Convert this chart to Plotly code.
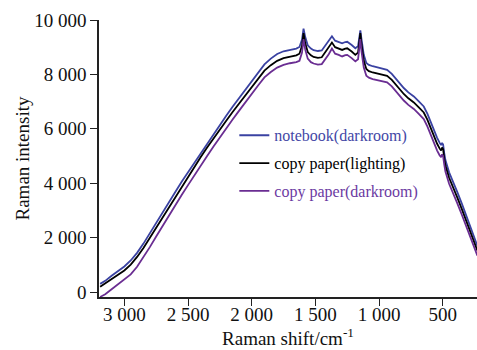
import plotly.graph_objects as go

shift = [3190, 3150, 3100, 3050, 3000, 2950, 2900, 2850, 2800, 2750, 2700, 2650, 2600, 2550, 2500,
         2450, 2400, 2350, 2300, 2250, 2200, 2150, 2100, 2050, 2000, 1950, 1900, 1850, 1800, 1750,
         1700, 1650, 1625, 1605, 1593, 1580, 1560, 1535, 1514, 1480, 1450, 1420, 1395, 1370, 1345,
         1317, 1290, 1265, 1250, 1215, 1186, 1165, 1155, 1147, 1138, 1120, 1100, 1080, 1050, 1020,
         990, 960, 937, 900, 872, 840, 806, 770, 727, 690, 649, 620, 597, 570, 544,
         525, 513, 505, 497, 488, 479, 450, 420, 387, 350, 308, 270, 250, 228]

notebook_dark = [300, 410, 600, 770, 940, 1160, 1440, 1780, 2150, 2540, 2920, 3310, 3680, 4050, 4400,
                 4770, 5120, 5470, 5820, 6160, 6480, 6810, 7130, 7450, 7760, 8070, 8370, 8580, 8750, 8850,
                 8910, 8950, 9010, 9280, 9680, 9380, 9070, 8950, 8890, 8860, 8880, 9070, 9220, 9400, 9240,
                 9200, 9140, 9190, 9200, 9080, 8960, 9040, 9350, 9620, 9300, 8720, 8420, 8350, 8300, 8270,
                 8240, 8200, 8170, 8020, 7860, 7670, 7500, 7340, 7190, 7020, 6820, 6550, 6270, 5970, 5670,
                 5490, 5400, 5480, 5420, 5100, 4850, 4400, 4080, 3690, 3250, 2720, 2200, 1950, 1700]

copy_light = [190, 310, 480, 630, 790, 1010, 1290, 1620, 1990, 2380, 2770, 3150, 3520, 3890, 4250,
              4610, 4960, 5310, 5650, 5990, 6300, 6620, 6930, 7240, 7540, 7850, 8140, 8340, 8500, 8600,
              8660, 8700, 8760, 9050, 9520, 9150, 8820, 8700, 8640, 8610, 8630, 8820, 8980, 9170, 9000,
              8960, 8900, 8950, 8960, 8840, 8720, 8800, 9150, 9520, 9100, 8500, 8200, 8120, 8070, 8040,
              8010, 7970, 7950, 7800, 7640, 7450, 7280, 7120, 6970, 6800, 6600, 6330, 6050, 5750, 5450,
              5280, 5200, 5310, 5250, 4900, 4650, 4200, 3880, 3490, 3050, 2520, 2020, 1780, 1520]

copy_dark = [-180, -80, 100, 280, 440, 650, 930, 1270, 1650, 2040, 2430, 2820, 3200, 3570, 3930,
             4300, 4650, 5000, 5350, 5690, 6010, 6340, 6660, 6980, 7280, 7590, 7890, 8090, 8250, 8350,
             8410, 8450, 8500, 8800, 9300, 8920, 8580, 8450, 8400, 8360, 8380, 8570, 8740, 8950, 8760,
             8720, 8660, 8710, 8720, 8600, 8480, 8560, 8900, 9300, 8850, 8250, 7950, 7880, 7830, 7800,
             7770, 7730, 7710, 7560, 7400, 7210, 7040, 6880, 6730, 6560, 6360, 6080, 5800, 5500, 5200,
             5030, 4960, 5060, 5000, 4680, 4430, 3980, 3660, 3280, 2840, 2320, 1820, 1590, 1340]

x_ticks = [3000, 2500, 2000, 1500, 1000, 500]
x_tick_text = ["3 000", "2 500", "2 000", "1 500", "1 000", "500"]
y_ticks = [0, 2000, 4000, 6000, 8000, 10000]
y_tick_text = ["0", "2 000", "4 000", "6 000", "8 000", "10 000"]

series = [
    ("notebook(darkroom)", notebook_dark, "#3a42a2", "#4347a6"),
    ("copy paper(lighting)", copy_light, "#000000", "#000000"),
    ("copy paper(darkroom)", copy_dark, "#6a2d92", "#6b3aa2"),
]

fig = go.Figure()
for i, (name, vals, col, tcol) in enumerate(series):
    fig.add_trace(go.Scatter(
        x=shift, y=vals, mode="lines",
        name=f"<span style='color:{tcol}'>{name}</span>",
        legendgroup=f"g{i}",
        line=dict(color=col, width=1.8),
    ))

font_family = "Liberation Serif, Times New Roman, serif"
fig.update_layout(
    width=477, height=350,
    margin=dict(l=99, r=0, t=20, b=53),
    paper_bgcolor="white", plot_bgcolor="white",
    font=dict(family=font_family, size=19, color="#111"),
    showlegend=True,
    legend=dict(
        x=0.358, y=0.645, xanchor="left", yanchor="top",
        font=dict(family=font_family, size=16, color="#111"),
        bgcolor="rgba(0,0,0,0)", traceorder="grouped", tracegroupgap=4,
    ),
    xaxis=dict(
        range=[3199, 231], tickvals=x_ticks, ticktext=x_tick_text,
        showgrid=False, zeroline=False, showline=True, linecolor="#222", linewidth=1.5,
        ticks="outside", ticklen=7, tickwidth=1.3, tickcolor="#222",
        ticklabelstandoff=-8,
        title=dict(text="Raman shift/cm<sup>-1</sup>", standoff=2, font=dict(size=19)),
    ),
    yaxis=dict(
        range=[-183, 10000], tickvals=y_ticks, ticktext=y_tick_text,
        showgrid=False, zeroline=False, showline=True, linecolor="#222", linewidth=1.5,
        ticks="outside", ticklen=7, tickwidth=1.3, tickcolor="#222",
        title=dict(text="Raman intensity", standoff=0, font=dict(size=19)),
    ),
)

fig.write_html("out.html")
